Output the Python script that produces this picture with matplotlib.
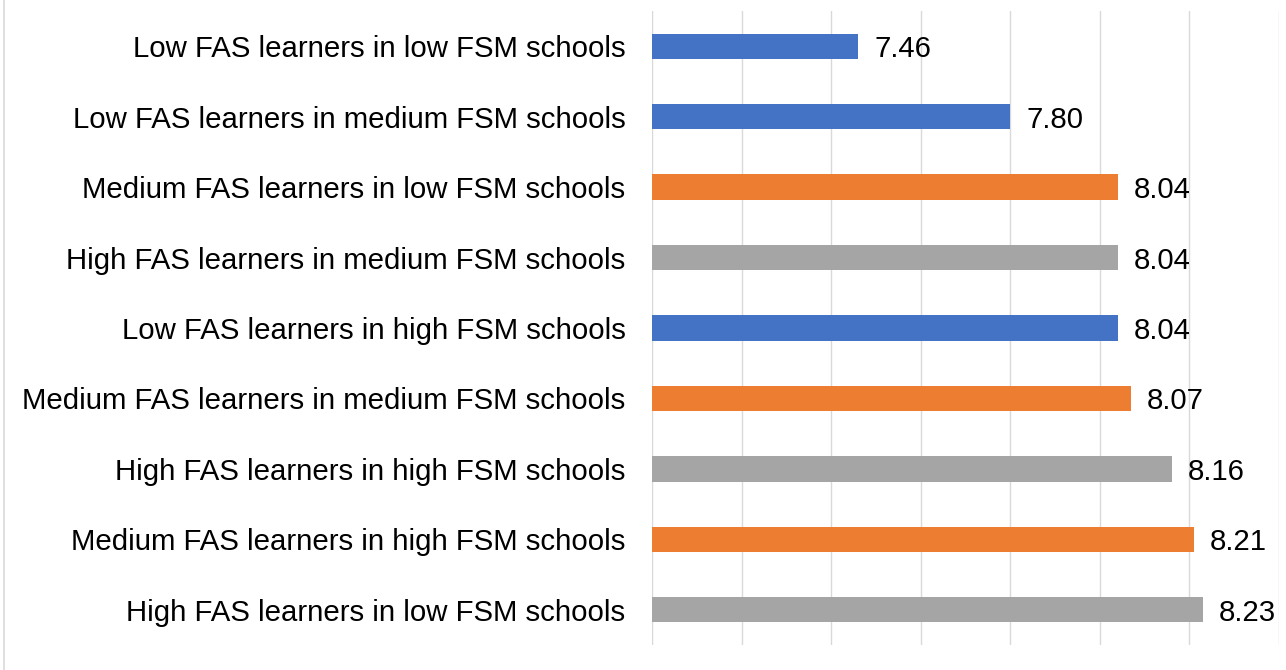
import matplotlib
matplotlib.use("Agg")
import matplotlib.pyplot as plt
from matplotlib.lines import Line2D

plt.rcParams['font.family'] = ['Liberation Sans', 'DejaVu Sans']

categories = [
    "Low FAS learners in low FSM schools",
    "Low FAS learners in medium FSM schools",
    "Medium FAS learners in low FSM schools",
    "High FAS learners in medium FSM schools",
    "Low FAS learners in high FSM schools",
    "Medium FAS learners in medium FSM schools",
    "High FAS learners in high FSM schools",
    "Medium FAS learners in high FSM schools",
    "High FAS learners in low FSM schools",
]
values = [7.46, 7.80, 8.04, 8.04, 8.04, 8.07, 8.16, 8.21, 8.23]
value_labels = ["7.46", "7.80", "8.04", "8.04", "8.04", "8.07", "8.16", "8.21", "8.23"]

group_colors = {"Low": "#4472C4", "Medium": "#ED7D31", "High": "#A5A5A5"}
bar_colors = [group_colors[c.split()[0]] for c in categories]

fig = plt.figure(figsize=(12.86, 6.70), dpi=100)
ax = fig.add_axes([652 / 1286, 1 - 645 / 670, (1279 - 652) / 1286, (645 - 11) / 670])

ypos = list(range(len(categories)))
ax.barh(ypos, values, height=0.36, color=bar_colors, zorder=2)

for y, v, lab in zip(ypos, values, value_labels):
    ax.annotate(lab, xy=(v, y), xytext=(16, -3), textcoords='offset pixels',
                ha='left', va='center', fontsize=21.2, color='black')

ax.set_xlim(7.0, 8.4)
ax.set_ylim(len(categories) - 0.5, -0.5)
ax.set_xticks([7.0, 7.2, 7.4, 7.6, 7.8, 8.0, 8.2, 8.4])
ax.set_xticklabels([])
ax.tick_params(axis='x', length=0)
ax.set_yticks(ypos)
ax.set_yticklabels(categories, fontsize=21.2, color='black')
ax.tick_params(axis='y', length=0, pad=19)
ax.grid(axis='x', color='#D9D9D9', linewidth=1.0, zorder=0)
ax.set_axisbelow(True)
for s in ax.spines.values():
    s.set_visible(False)

fig.add_artist(Line2D([4 / 1286, 4 / 1286], [0, 1], color='#D9D9D9', linewidth=1.2))

fig.savefig("out.png", dpi=100)
